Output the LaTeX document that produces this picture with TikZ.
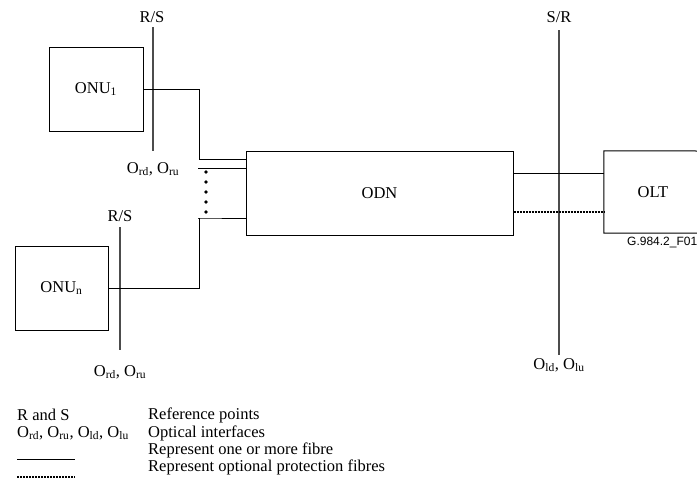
\documentclass[tikz,border=0pt]{standalone}
\usepackage{fontspec}
\setmainfont{Liberation Serif}
\newfontfamily\figsans{Liberation Sans}
\begin{document}
\begin{tikzpicture}[x=1pt,y=-1pt,
  box/.style={draw,line width=1pt,inner sep=0pt},
  fibre/.style={line width=0.9pt},
  prot/.style={line width=1.3pt,dash pattern=on 2.2pt off 0.8pt},
  refline/.style={line width=1.2pt,draw=black!70},
  lbl/.style={font=\fontsize{16.5}{18}\selectfont,inner sep=0pt},
  dotn/.style={circle,fill=black,inner sep=0pt,minimum size=3.8pt}]
\useasboundingbox (0,0) rectangle (697,485);
% boxes
\node[box,minimum width=94pt,minimum height=84pt,lbl] (onu1) at (96,89) {ONU\textsubscript{1}};
\node[box,minimum width=93pt,minimum height=84pt,lbl] (onun) at (61.5,288) {ONU\textsubscript{n}};
\node[box,minimum width=267pt,minimum height=84pt,lbl] (odn) at (379.5,193) {ODN};
\node[minimum width=98pt,minimum height=82pt,lbl] (olt) at (653,192) {OLT};
\draw[line width=1pt] (697,151) -- (olt.north west) -- (olt.south west) -- (697,233);
% reference lines
\node[lbl] (rs1) at (152,17) {R/S};
\coordinate (rs1b) at (153,151);
\draw[refline] (153,27) -- (rs1b);
\node[lbl] (o1) at (153,169) {O\textsubscript{rd}, O\textsubscript{ru}};
\node[lbl] (rs2) at (120,216) {R/S};
\coordinate (rs2b) at (120,350);
\draw[refline] (120,227) -- (rs2b);
\node[lbl] (o2) at (120,372) {O\textsubscript{rd}, O\textsubscript{ru}};
\node[lbl] (sr) at (559,17) {S/R};
\coordinate (srb) at (559,355);
\draw[refline] (559,30) -- (srb);
\node[lbl] (o3) at (559,365) {O\textsubscript{ld}, O\textsubscript{lu}};
% fibres
\coordinate (j1) at (199,89);
\coordinate (j2) at (199,159);
\draw[fibre] (onu1.east |- j1) -- (j1) -- (j2) -- (odn.west |- j2);
\coordinate (k1) at (198,168);
\draw[fibre] (k1) -- (odn.west |- k1);
\coordinate (m1) at (198,218);
\coordinate (m2) at (199,288);
\draw[fibre] (odn.west |- m1) -- (m1) -- (199,218) -- (m2) -- (onun.east |- m2);
\foreach \i/\y in {1/172,2/182,3/192,4/202,5/212} \node[dotn] (d\i) at (206,\y) {};
\coordinate (p1) at (513,173);
\draw[fibre] (odn.east |- p1) -- (olt.west |- p1);
\coordinate (p2) at (513,212);
\draw[prot] (odn.east |- p2) -- (olt.west |- p2);
\node[font=\figsans\fontsize{12}{14}\selectfont,anchor=west,inner sep=0pt] (fig) at (627,242) {G.984.2\_F01};
% legend
\node[lbl,anchor=west] (l1) at (17,415) {R and S};
\node[lbl,anchor=west] (l2) at (17,433) {O\textsubscript{rd}, O\textsubscript{ru}, O\textsubscript{ld}, O\textsubscript{lu}};
\coordinate (la) at (17,459); \coordinate (lb) at (75,459);
\draw[fibre] (la) -- (lb);
\coordinate (lc) at (17,477); \coordinate (ld) at (75,477);
\draw[prot] (lc) -- (ld);
\node[lbl,anchor=west] (r1) at (148,415) {Reference points};
\node[lbl,anchor=west] (r2) at (148,433) {Optical interfaces};
\node[lbl,anchor=west] (r3) at (148,450) {Represent one or more fibre};
\node[lbl,anchor=west] (r4) at (148,467) {Represent optional protection fibres};
\end{tikzpicture}
\end{document}
